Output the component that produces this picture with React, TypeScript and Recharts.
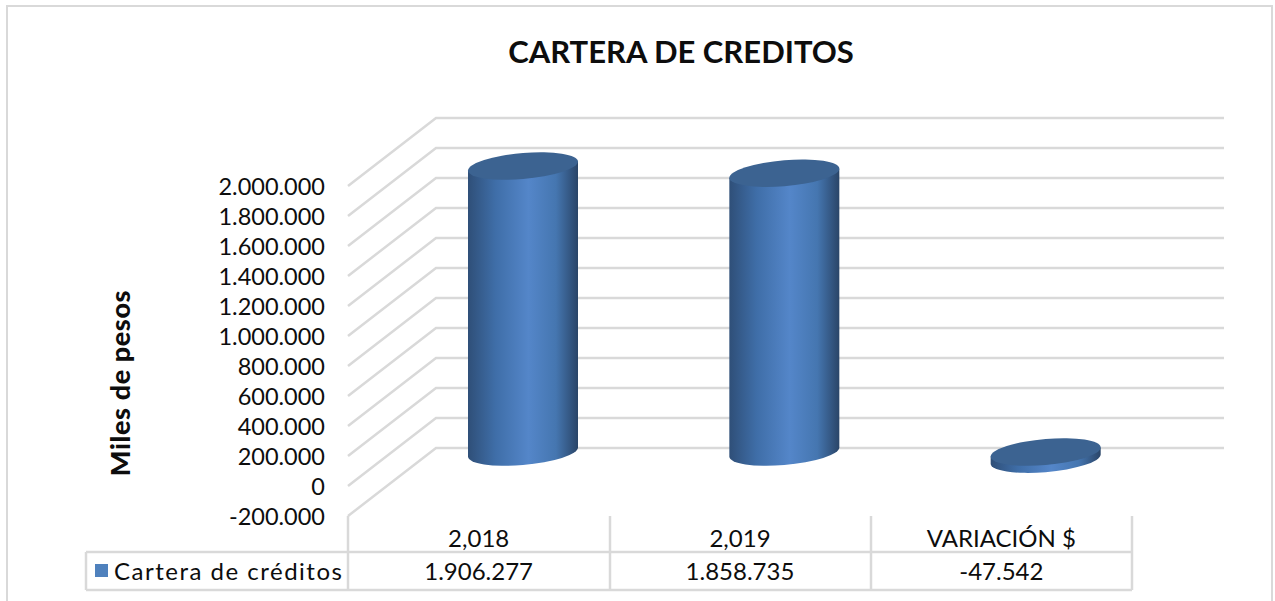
import { ComposedChart, Bar, XAxis, YAxis, CartesianGrid } from 'recharts';

const categories = ['2,018', '2,019', 'VARIACIÓN $'];
const carteraValues = [1906277, 1858735, -47542];
const yTicks = [-200000, 0, 200000, 400000, 600000, 800000, 1000000, 1200000, 1400000, 1600000, 1800000, 2000000];

const data = categories.map((category, i) => ({ category, cartera: carteraValues[i] }));

const FONT = 'Lato, sans-serif';
const INK = '#0d0d0d';
const LINE = '#d9d9d9';
// half of the 3d depth: the plot area is the plane the bars stand in
const DX = 44;
const DY = 34;

const fmt = (v: number) => String(v).replace(/\B(?=(\d{3})+(?!\d))/g, '.');

function YTick({ y, payload }: any) {
  return (
    <text x={325} y={y + DY} textAnchor="end" dominantBaseline="central" fontFamily={FONT} fontSize={23.5} fill={INK}>
      {fmt(payload.value)}
    </text>
  );
}

function XTick({ x, payload, index }: any) {
  return (
    <g fontFamily={FONT} fontSize={24} fill={INK} textAnchor="middle">
      <text x={x - DX} y={537} dominantBaseline="central">{payload.value}</text>
      <text x={x - DX} y={570} dominantBaseline="central">{fmt(carteraValues[index])}</text>
    </g>
  );
}

function gridLine(props: any) {
  const { x1, x2, y1 } = props;
  const pts = `${x1 - DX},${y1 + DY} ${x1 + DX},${y1 - DY} ${x2 + DX + 4},${y1 - DY}`;
  return <polyline key={props.key ?? y1} points={pts} fill="none" stroke={LINE} strokeWidth={2.5} />;
}

function Cylinder({ x, y, width, height }: any) {
  const a = width / 2;
  const b = 13;
  const top = Math.min(y, y + height);
  const bottom = Math.max(y, y + height);
  const body = `M${-a},${top} L${-a},${bottom} A${a},${b} 0 0 0 ${a},${bottom} L${a},${top} Z`;
  return (
    <g transform={`translate(${x + a},0) skewY(-4.7)`}>
      <path d={body} fill="url(#cyl)" />
      <ellipse cx={0} cy={top} rx={a} ry={b} fill="#3c6391" />
    </g>
  );
}

export default function App() {
  return (
    <div style={{ position: 'fixed', left: 0, top: 0, width: 1275, height: 601, overflow: 'hidden', background: '#fff' }}>
      <ComposedChart
        width={1275}
        height={601}
        data={data}
        margin={{ top: 152, right: 99, bottom: 19, left: 292 }}
      >
        <defs>
          <linearGradient id="cyl" x1="0" y1="0" x2="1" y2="0">
            <stop offset="0" stopColor="#2f4f78" />
            <stop offset="0.25" stopColor="#3f6ea8" />
            <stop offset="0.55" stopColor="#5486c9" />
            <stop offset="0.8" stopColor="#4576b0" />
            <stop offset="1" stopColor="#2a4568" />
          </linearGradient>
        </defs>
        <rect x={7} y={6} width={1265} height={620} fill="none" stroke={LINE} strokeWidth={2} />
        <CartesianGrid vertical={false} horizontal={gridLine} />
        <XAxis dataKey="category" height={100} axisLine={false} tickLine={false} tick={XTick} interval={0} />
        <YAxis
          width={100}
          domain={[-200000, 2000000]}
          ticks={yTicks}
          interval={0}
          axisLine={false}
          tickLine={false}
          tick={YTick}
        />
        <Bar dataKey="cartera" barSize={110} shape={Cylinder} isAnimationActive={false} />

        <g stroke={LINE} strokeWidth={2.5}>
          <line x1={86} y1={552} x2={1132} y2={552} />
          <line x1={86} y1={590} x2={1132} y2={590} />
          <line x1={86} y1={552} x2={86} y2={590} />
          <line x1={348} y1={516} x2={348} y2={590} />
          <line x1={610} y1={516} x2={610} y2={590} />
          <line x1={871} y1={516} x2={871} y2={590} />
          <line x1={1132} y1={516} x2={1132} y2={590} />
        </g>
        <rect x={95} y={564} width={13} height={13} fill="#4f81bd" />
        <text x={114} y={570} dominantBaseline="central" fontFamily={FONT} fontSize={24} letterSpacing={1.5} fill={INK}>
          Cartera de créditos
        </text>
        <text x={681} y={51} textAnchor="middle" dominantBaseline="central" fontFamily={FONT} fontSize={31} fontWeight={700} fill={INK}>
          CARTERA DE CREDITOS
        </text>
        <text
          transform="translate(119,383) rotate(-90)"
          textAnchor="middle"
          dominantBaseline="central"
          fontFamily={FONT}
          fontSize={27}
          fontWeight={900}
          letterSpacing={0.6}
          fill={INK}
        >
          Miles de pesos
        </text>
      </ComposedChart>
    </div>
  );
}
